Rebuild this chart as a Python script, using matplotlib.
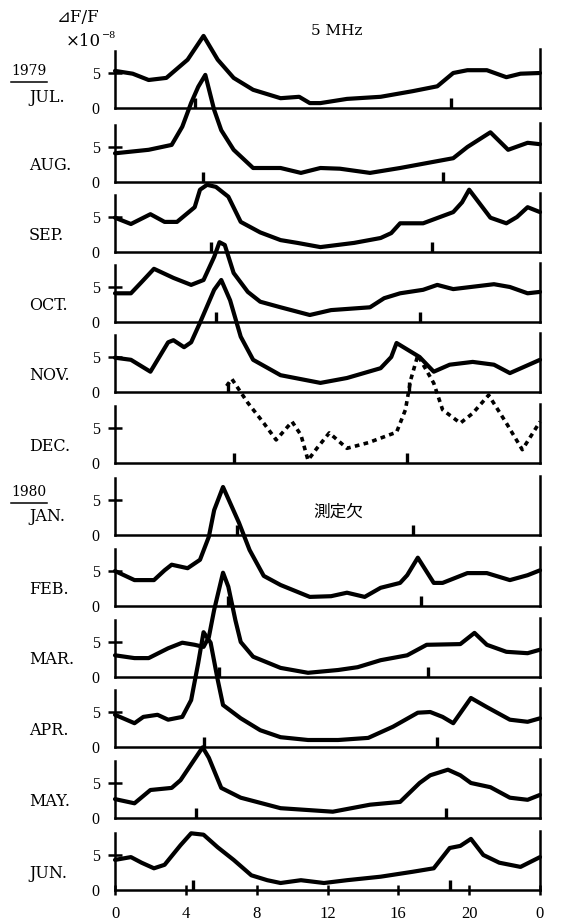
import matplotlib.pyplot as plt
from matplotlib.lines import Line2D

plt.rcParams['font.family'] = ['DejaVu Serif', 'Noto Sans CJK JP', 'DejaVu Sans']

# ---- data: hour of day vs dF/F (x1e-8), one curve per month ----
months = ['JUL.', 'AUG.', 'SEP.', 'OCT.', 'NOV.', 'DEC.',
          'JAN.', 'FEB.', 'MAR.', 'APR.', 'MAY.', 'JUN.']

jul_h = [0, 1.0, 1.9, 2.9, 4.1, 5.0, 5.8, 6.7, 7.8, 9.35, 10.4, 11.0, 11.6, 13.1, 15.0, 16.8, 18.2, 19.1, 19.9, 21.0, 22.1, 22.9, 24]
jul_v = [5.3, 4.9, 4.0, 4.3, 6.9, 10.3, 6.9, 4.3, 2.6, 1.4, 1.6, 0.7, 0.7, 1.3, 1.6, 2.4, 3.1, 5.0, 5.4, 5.4, 4.4, 4.9, 5.0]

aug_h = [0, 1.9, 3.2, 3.8, 4.3, 4.7, 5.1, 5.6, 6.0, 6.7, 7.8, 9.35, 10.5, 11.6, 12.7, 14.4, 16.1, 17.6, 19.1, 19.9, 21.2, 22.2, 23.3, 24]
aug_v = [4.1, 4.6, 5.3, 7.9, 11.3, 13.6, 15.3, 10.3, 7.4, 4.6, 2.0, 2.0, 1.3, 2.0, 1.9, 1.3, 2.0, 2.7, 3.4, 5.0, 7.1, 4.6, 5.6, 5.4]

sep_h = [0, 0.9, 2.0, 2.8, 3.5, 4.5, 4.8, 5.2, 5.7, 6.4, 7.1, 8.2, 9.35, 10.3, 11.6, 13.5, 15.0, 15.6, 16.1, 17.4, 19.1, 19.6, 20.0, 21.2, 22.1, 22.7, 23.3, 24]
sep_v = [4.9, 4.0, 5.4, 4.3, 4.3, 6.4, 8.9, 9.6, 9.3, 7.9, 4.3, 2.8, 1.7, 1.3, 0.7, 1.3, 2.0, 2.7, 4.1, 4.1, 5.7, 7.1, 8.9, 4.9, 4.1, 5.0, 6.4, 5.7]

oct_h = [0, 0.9, 1.5, 2.2, 3.3, 4.3, 5.0, 5.6, 5.9, 6.2, 6.7, 7.5, 8.2, 9.35, 11.0, 12.2, 14.4, 15.2, 16.1, 17.4, 18.2, 19.1, 21.4, 22.3, 23.3, 24]
oct_v = [4.1, 4.1, 5.7, 7.6, 6.3, 5.3, 6.0, 9.3, 11.4, 11.0, 7.0, 4.3, 2.9, 2.1, 1.0, 1.7, 2.1, 3.4, 4.1, 4.6, 5.3, 4.7, 5.4, 5.0, 4.1, 4.3]

nov_h = [0, 0.9, 2.0, 3.0, 3.3, 3.9, 4.3, 4.8, 5.6, 6.0, 6.5, 7.1, 7.8, 9.35, 11.6, 13.1, 15.0, 15.6, 15.9, 17.2, 18.0, 18.9, 20.2, 21.4, 22.3, 24]
nov_v = [4.9, 4.6, 2.9, 7.1, 7.4, 6.4, 7.1, 9.9, 14.6, 16.0, 13.1, 7.9, 4.6, 2.4, 1.3, 2.0, 3.4, 5.0, 7.0, 5.0, 2.9, 3.9, 4.3, 3.9, 2.7, 4.6]

dec_h = [6.3, 6.6, 7.5, 8.4, 9.1, 10.0, 10.5, 10.9, 11.4, 12.1, 13.1, 14.3, 15.9, 16.4, 16.7, 17.1, 18.0, 18.5, 19.5, 20.2, 21.1, 22.1, 23.0, 24]
dec_v = [11.0, 12.0, 8.6, 5.7, 3.3, 5.9, 4.0, 0.4, 2.1, 4.3, 2.1, 2.9, 4.4, 7.6, 11.9, 15.4, 11.4, 7.6, 5.7, 7.1, 9.7, 5.7, 1.9, 5.9]

jan_h = []
jan_v = []

feb_h = [0, 1.1, 2.2, 2.8, 3.2, 4.1, 4.8, 5.3, 5.6, 6.1, 7.0, 7.6, 8.4, 9.35, 11.0, 12.2, 13.1, 14.1, 15.0, 16.1, 16.5, 17.1, 18.0, 18.5, 19.9, 21.0, 22.3, 23.3, 24]
feb_v = [5.0, 3.7, 3.7, 5.1, 5.9, 5.4, 6.6, 9.9, 13.7, 17.0, 11.9, 8.0, 4.3, 3.0, 1.3, 1.4, 1.9, 1.3, 2.6, 3.3, 4.4, 6.9, 3.3, 3.3, 4.7, 4.7, 3.7, 4.4, 5.1]

mar_h = [0, 1.1, 1.9, 3.0, 3.8, 4.5, 5.0, 5.3, 5.6, 6.1, 6.4, 6.8, 7.1, 7.8, 9.35, 10.9, 12.6, 13.7, 15.0, 16.5, 17.6, 19.5, 20.3, 21.0, 22.1, 23.3, 24]
mar_v = [3.1, 2.7, 2.7, 4.1, 4.9, 4.6, 4.3, 5.7, 9.6, 14.9, 12.9, 8.1, 5.0, 2.9, 1.3, 0.6, 1.0, 1.4, 2.4, 3.1, 4.6, 4.7, 6.3, 4.6, 3.6, 3.4, 3.9]

apr_h = [0, 1.1, 1.6, 2.4, 3.0, 3.8, 4.3, 4.7, 5.0, 5.4, 5.8, 6.1, 7.1, 8.2, 9.35, 10.9, 12.6, 14.3, 15.7, 17.1, 17.8, 18.5, 19.1, 20.1, 21.0, 22.3, 23.3, 24]
apr_v = [4.6, 3.4, 4.3, 4.6, 3.9, 4.3, 6.7, 12.0, 16.4, 14.9, 9.6, 6.0, 4.1, 2.4, 1.4, 1.0, 1.0, 1.3, 2.9, 4.9, 5.0, 4.3, 3.4, 7.0, 5.7, 3.9, 3.6, 4.1]

may_h = [0, 1.1, 2.0, 3.2, 3.7, 4.95, 5.3, 6.0, 7.1, 9.35, 12.3, 14.4, 16.1, 17.2, 17.8, 18.8, 19.5, 20.1, 21.2, 22.3, 23.3, 24]
may_v = [2.7, 2.1, 4.0, 4.3, 5.4, 10.1, 8.6, 4.3, 2.9, 1.4, 0.9, 1.9, 2.3, 5.0, 6.1, 6.9, 6.1, 5.0, 4.4, 2.9, 2.6, 3.3]

jun_h = [0, 0.9, 1.5, 2.2, 2.8, 3.7, 4.3, 5.0, 5.8, 6.7, 7.7, 8.6, 9.35, 10.5, 11.8, 13.1, 15.0, 16.8, 18.0, 18.9, 19.5, 20.1, 20.8, 21.7, 22.9, 24]
jun_v = [4.3, 4.7, 3.9, 3.1, 3.6, 6.4, 8.1, 7.9, 6.1, 4.3, 2.1, 1.4, 1.0, 1.4, 1.0, 1.4, 1.9, 2.6, 3.1, 6.0, 6.3, 7.3, 5.0, 3.9, 3.3, 4.7]

# sunrise / sunset marks (hours)
mark_hours = [[4.5, 19.0], [4.95, 18.5], [5.4, 17.9], [5.7, 17.2], [6.4, 16.6], [6.7, 16.5],
              [6.9, 16.8], [6.4, 17.3], [5.9, 17.7], [5.0, 18.2], [4.55, 18.7], [4.4, 18.9]]

curves = [(jul_h, jul_v), (aug_h, aug_v), (sep_h, sep_v), (oct_h, oct_v),
          (nov_h, nov_v), (dec_h, dec_v), (jan_h, jan_v), (feb_h, feb_v),
          (mar_h, mar_v), (apr_h, apr_v), (may_h, may_v), (jun_h, jun_v)]

hour_ticks = [0, 4, 8, 12, 16, 20, 24]
hour_labels = ['0', '4', '8', '12', '16', '20', '0']

# ---- layout (pixels of the 562x921 picture) ----
W, H = 562, 921
baselines = [108, 182, 252, 322, 392, 463, 535, 606, 677, 747, 818, 890]
label_raise = [11, 17, 17, 17, 17, 17, 19, 16, 17, 17, 17, 17]
x_left, x_right = 115, 540
panel_h = 70  # 10 units
num_font = 'Liberation Serif'


def fx(x):
    return x / W


def fy(y):
    return 1 - y / H


fig = plt.figure(figsize=(W / 100, H / 100), dpi=100)

for i, month in enumerate(months):
    yb = baselines[i]
    ax = fig.add_axes([fx(x_left), fy(yb), (x_right - x_left) / W, panel_h / H])
    ax.set_xlim(0, 24)
    ax.set_ylim(0, 10)
    ax.patch.set_visible(False)
    ax.spines['top'].set_visible(False)
    for s in ('left', 'right', 'bottom'):
        ax.spines[s].set_linewidth(1.8)
    ax.spines['left'].set_bounds(0, 8.2)
    ax.spines['right'].set_bounds(0, 8.4)

    hh, vv = curves[i]
    if hh:
        if month == 'DEC.':
            ax.plot(hh, vv, color='black', lw=2.6, ls=(0, (1.3, 1.2)),
                    dash_capstyle='butt', clip_on=False)
        else:
            ax.plot(hh, vv, color='black', lw=3.0, solid_joinstyle='round',
                    solid_capstyle='round', clip_on=False)
    ax.vlines(mark_hours[i], 0, 1.4, color='black', lw=2.4)

    ax.set_yticks([0, 5])
    ax.set_yticklabels(['0', '5'], family=num_font, fontsize=11.5)
    ax.tick_params(axis='y', direction='inout', length=10, width=1.8,
                   pad=6, right=False)
    ax.yaxis.get_major_ticks()[0].tick1line.set_visible(False)

    if i == len(months) - 1:
        ax.set_xticks(hour_ticks)
        ax.set_xticklabels(hour_labels, family=num_font, fontsize=12)
        ax.tick_params(axis='x', direction='inout', length=7, width=1.8, pad=8)
    else:
        ax.set_xticks([])

    fig.text(fx(29), fy(yb - label_raise[i]), month, ha='left', va='center',
             fontsize=11.5)

# year labels with underline
for year, yc, yl in [('1979', 71, 82), ('1980', 492, 503)]:
    fig.text(fx(29), fy(yc), year, ha='center', va='center', fontsize=10)
    fig.add_artist(Line2D([fx(11), fx(47)], [fy(yl), fy(yl)],
                          transform=fig.transFigure, color='black', lw=1.1))

fig.text(fx(78), fy(17), '⊿F/F', ha='center', va='center', fontsize=12,
         family=['DejaVu Serif', 'DejaVu Sans'])
fig.text(fx(66), fy(42), '×10', ha='left', va='center', fontsize=12)
fig.text(fx(102), fy(36), '−8', ha='left', va='center', fontsize=7)
fig.text(fx(337), fy(31), '5 MHz', ha='center', va='center', fontsize=11)
fig.text(fx(338), fy(512), '測定欠', ha='center', va='center', fontsize=12,
         family=['Noto Sans CJK JP', 'DejaVu Sans'])

fig.savefig('out.png', dpi=100)
